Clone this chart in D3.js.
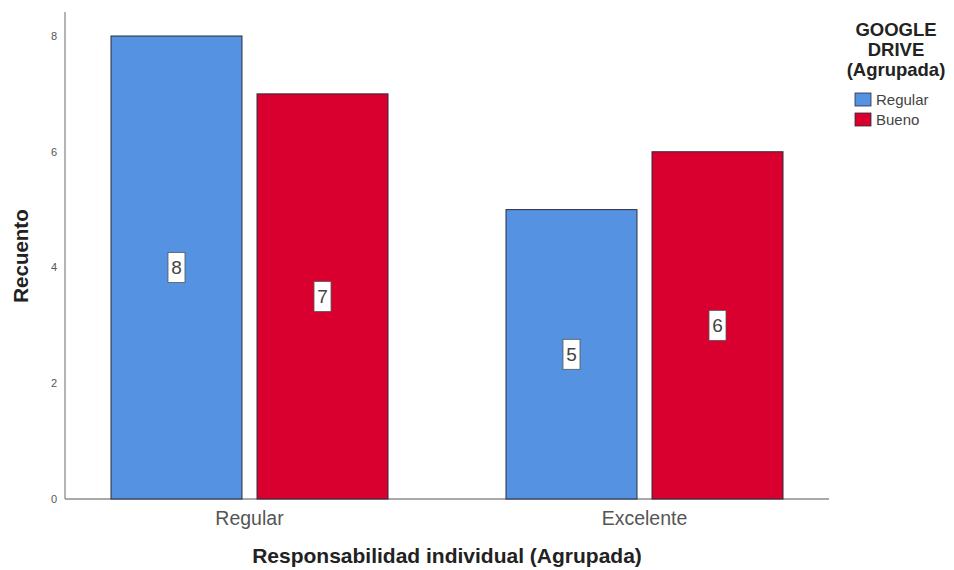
<!DOCTYPE html>
<html><head><meta charset="utf-8">
<script src="https://cdn.jsdelivr.net/npm/d3@7"></script>
<style>body{margin:0;background:#fff}svg{display:block;font-family:"Liberation Sans",Arial,sans-serif}</style>
</head><body>
<svg id="c" width="954" height="570"></svg>
<script>
const categories = ["Regular", "Excelente"];
const seriesNames = ["Regular", "Bueno"];
const seriesRegular = [8, 5];
const seriesBueno = [7, 6];
const yTicks = [0, 2, 4, 6, 8];
const colors = ["#5592e1", "#d9002f"];
const legendTitle = ["GOOGLE", "DRIVE", "(Agrupada)"];
const xTitle = "Responsabilidad individual (Agrupada)";
const yTitle = "Recuento";

const seriesValues = [seriesRegular, seriesBueno];
const svg = d3.select("#c");
const x0 = d3.scaleBand().domain(categories).range([52, 842]);
const x1 = d3.scaleBand().domain(seriesNames).range([59, 336]).paddingInner(0.103);
const y = d3.scaleLinear().domain([0, 8]).range([499, 36]);

// axes lines
svg.append("line").attr("x1", 65).attr("x2", 65).attr("y1", 12).attr("y2", y(0))
  .attr("stroke", "#8c8c8c").attr("stroke-width", 1.3);
svg.append("line").attr("x1", 65).attr("x2", 829).attr("y1", y(0)).attr("y2", y(0))
  .attr("stroke", "#8c8c8c").attr("stroke-width", 1.3);

// y tick labels
svg.append("g").selectAll("text").data(yTicks).join("text")
  .attr("x", 57).attr("y", d => y(d)).attr("dy", "0.35em")
  .attr("text-anchor", "end").attr("font-size", 11).attr("fill", "#555").text(d => d);

// bars
const data = [];
categories.forEach((c, i) => seriesNames.forEach((s, j) => data.push({c, s, j, v: seriesValues[j][i]})));
const g = svg.append("g");
g.selectAll("rect").data(data).join("rect")
  .attr("x", d => x0(d.c) + x1(d.s)).attr("width", x1.bandwidth())
  .attr("y", d => y(d.v)).attr("height", d => y(0) - y(d.v))
  .attr("fill", d => colors[d.j]).attr("stroke", "#2b2b3a").attr("stroke-width", 1);

// value labels
const lab = svg.append("g").selectAll("g").data(data).join("g")
  .attr("transform", d => `translate(${x0(d.c) + x1(d.s) + x1.bandwidth() / 2},${y(d.v / 2)})`);
lab.append("rect").attr("x", -8.5).attr("y", -15).attr("width", 17).attr("height", 30)
  .attr("fill", "#fff").attr("stroke", "#555").attr("stroke-width", 0.8);
lab.append("text").attr("text-anchor", "middle").attr("dy", "0.36em")
  .attr("font-size", 19).attr("fill", "#444").text(d => d.v);

// x category labels
svg.append("g").selectAll("text").data(categories).join("text")
  .attr("x", d => x0(d) + x0.bandwidth() / 2).attr("y", 525)
  .attr("text-anchor", "middle").attr("font-size", 19.5).attr("fill", "#555").text(d => d);

// axis titles
svg.append("text").attr("x", 447).attr("y", 563).attr("text-anchor", "middle")
  .attr("font-size", 21).attr("font-weight", "bold").attr("fill", "#222").text(xTitle);
svg.append("text").attr("transform", "translate(28,256) rotate(-90)").attr("text-anchor", "middle")
  .attr("font-size", 20.5).attr("font-weight", "bold").attr("fill", "#222").text(yTitle);

// legend
const lg = svg.append("g");
lg.selectAll("text.t").data(legendTitle).join("text").attr("class", "t")
  .attr("x", 896).attr("y", (d, i) => 36 + i * 20).attr("text-anchor", "middle")
  .attr("font-size", 18.5).attr("font-weight", "bold").attr("fill", "#222").text(d => d);
const items = lg.selectAll("g").data(seriesNames).join("g")
  .attr("transform", (d, i) => `translate(855,${93 + i * 20})`);
items.append("rect").attr("width", 16).attr("height", 13)
  .attr("fill", (d, i) => colors[i]).attr("stroke", "#2b2b3a").attr("stroke-width", 0.8);
items.append("text").attr("x", 21).attr("y", 7).attr("dy", "0.35em")
  .attr("font-size", 15).attr("fill", "#444").text(d => d);
</script>
</body></html>
